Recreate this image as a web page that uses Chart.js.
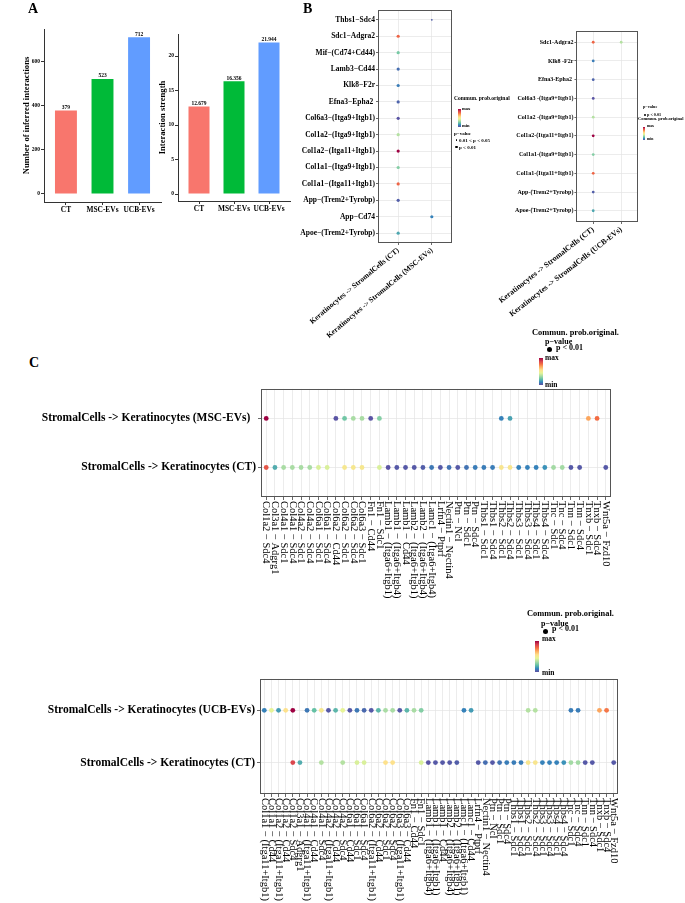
<!DOCTYPE html>
<html><head><meta charset="utf-8">
<script src="https://cdn.jsdelivr.net/npm/chart.js@4.4.1/dist/chart.umd.min.js"></script>
<style>
html,body{margin:0;padding:0;background:#fff;width:685px;height:903px;overflow:hidden;}
body{position:relative;}
canvas{position:absolute;}
.t{position:absolute;font-family:'Liberation Serif','Times New Roman',serif;font-weight:bold;color:#000;white-space:pre;line-height:1;}
.cb{position:absolute;background:linear-gradient(to bottom,#9E0142,#D53E4F,#F46D43,#FDAE61,#FEE08B,#E6F598,#ABDDA4,#66C2A5,#3288BD,#5E4FA2);}
.dot{position:absolute;border-radius:50%;background:#000;}
</style></head><body>
<canvas id="a1" width="170" height="230" style="left:0;top:0;width:170px;height:230px"></canvas>
<canvas id="a2" width="150" height="230" style="left:150px;top:0;width:150px;height:230px"></canvas>
<canvas id="b1" width="230" height="345" style="left:230px;top:0;width:230px;height:345px"></canvas>
<canvas id="b2" width="215" height="335" style="left:470px;top:0;width:215px;height:335px"></canvas>
<canvas id="c1" width="685" height="240" style="left:0;top:380px;width:685px;height:240px"></canvas>
<canvas id="c2" width="685" height="233" style="left:0;top:670px;width:685px;height:233px"></canvas>
<script>
// ---------------- DATA ----------------
const groupsA = ['CT', 'MSC-EVs', 'UCB-EVs'];
const interactionCounts = [379, 523, 712];
const interactionStrength = [12.679, 16.356, 21.944];
const countLabels = ['379', '523', '712'];
const strengthLabels = ['12.679', '16.356', '21.944'];
const countTicks = [0, 200, 400, 600];
const strengthTicks = [0, 5, 10, 15, 20];

// Panel B left
const pairsB1 = ['Thbs1\u2212Sdc4', 'Sdc1\u2212Adgra2', 'Mif\u2212(Cd74+Cd44)', 'Lamb3\u2212Cd44', 'Klk8\u2212F2r',
  'Efna3\u2212Epha2 ', 'Col6a3\u2212(Itga9+Itgb1)', 'Col1a2\u2212(Itga9+Itgb1)', 'Col1a2\u2212(Itga11+Itgb1)',
  'Col1a1\u2212(Itga9+Itgb1)', 'Col1a1\u2212(Itga11+Itgb1)', 'App\u2212(Trem2+Tyrobp)', 'App\u2212Cd74', 'Apoe\u2212(Trem2+Tyrobp)'];
const groupsB1 = ['Keratinocytes -> StromalCells (CT)', 'Keratinocytes -> StromalCells (MSC-EVs)'];
const probB1_CT  = [null, 0.80, 0.25, 0.06, 0.09, 0.04, 0.01, 0.35, 1.00, 0.27, 0.80, 0.03, null, 0.17];
const probB1_MSC = [0.03, null, null, null, null, null, null, null, null, null, null, null, 0.10, null];
const pB1_CT  = [0, 1, 1, 1, 1, 1, 1, 1, 1, 1, 1, 1, 0, 1];   // 1: p<0.01, 2: 0.01<p<0.05
const pB1_MSC = [2, 0, 0, 0, 0, 0, 0, 0, 0, 0, 0, 0, 1, 0];

// Panel B right
const pairsB2 = ['Sdc1-Adgra2', 'Klk8 -F2r', 'Efna3-Epha2 ', 'Col6a3 -(Itga9+Itgb1)', 'Col1a2 -(Itga9+Itgb1)',
  'Col1a2-(Itga11+Itgb1)', 'Col1a1-(Itga9+Itgb1)', 'Col1a1-(Itga11+Itgb1)', 'App-(Trem2+Tyrobp)', 'Apoe-(Trem2+Tyrobp)'];
const groupsB2 = ['Keratinocytes -> StromalCells (CT)', 'Keratinocytes -> StromalCells (UCB-EVs)'];
const probB2_CT  = [0.80, 0.09, 0.04, 0.01, 0.35, 1.00, 0.27, 0.80, 0.03, 0.17];
const probB2_UCB = [0.35, null, null, null, null, null, null, null, null, null];

// Panel C top
const pairsC1 = ['Col1a2 \u2212 Sdc4', 'Col3a1 \u2212 Adgrg1', 'Col4a1 \u2212 Sdc1', 'Col4a1 \u2212 Sdc4', 'Col4a2 \u2212 Sdc1',
  'Col4a2 \u2212 Sdc4', 'Col6a1 \u2212 Sdc1', 'Col6a1 \u2212 Sdc4', 'Col6a2 \u2212 Cd44', 'Col6a2 \u2212 Sdc1', 'Col6a2 \u2212 Sdc4',
  'Col6a3 \u2212 Sdc1', 'Fn1 \u2212 Cd44', 'Fn1 \u2212 Sdc1', 'Lamb1 \u2212 (Itga6+Itgb1)', 'Lamb1 \u2212 (Itga6+Itgb4)',
  'Lamb1 \u2212 Cd44', 'Lamb2 \u2212 (Itga6+Itgb1)', 'Lamb2 \u2212 (Itga6+Itgb4)', 'Lamc1 \u2212 (Itga6+Itgb4)',
  'Lrfn4 \u2212 Ptprf', 'Nectin1 \u2212 Nectin4', 'Ptn \u2212 Ncl', 'Ptn \u2212 Sdc1', 'Ptn \u2212 Sdc4', 'Thbs1 \u2212 Sdc1',
  'Thbs1 \u2212 Sdc4', 'Thbs2 \u2212 Sdc1', 'Thbs2 \u2212 Sdc4', 'Thbs3 \u2212 Sdc1', 'Thbs3 \u2212 Sdc4', 'Thbs4 \u2212 Sdc1',
  'Thbs4 \u2212 Sdc4', 'Tnc \u2212 Sdc1', 'Tnc \u2212 Sdc4', 'Tnn \u2212 Sdc1', 'Tnn \u2212 Sdc4', 'Tnxb \u2212 Sdc1',
  'Tnxb \u2212 Sdc4', 'Wnt5a \u2212 Fzd10'];
const rowsC1 = ['StromalCells -> Keratinocytes (MSC-EVs)  ', 'StromalCells -> Keratinocytes (CT)'];
const probC1_MSC = [1.00, null, null, null, null, null, null, null, 0.01, 0.24, 0.33, 0.33, 0.01, 0.27,
  null, null, null, null, null, null, null, null, null, null, null, null, null, 0.10, 0.16,
  null, null, null, null, null, null, null, null, 0.68, 0.78, null];
const probC1_CT = [0.83, 0.18, 0.33, 0.33, 0.33, 0.33, 0.42, 0.42, null, 0.52, 0.52, 0.52, null, 0.42,
  0.01, 0.02, 0.02, 0.02, 0.03, 0.08, 0.02, 0.07, 0.02, 0.07, 0.09, 0.09, 0.09, 0.53, 0.53,
  0.10, 0.10, 0.10, 0.13, 0.32, 0.32, 0.02, 0.02, null, null, 0.02];

// Panel C bottom
const pairsC2 = ['Col1a1 \u2212 (Itga11+Itgb1)', 'Col1a1 \u2212 Cd44', 'Col1a2 \u2212 (Itga11+Itgb1)', 'Col1a2 \u2212 Cd44',
  'Col1a2 \u2212 Sdc4', 'Col3a1 \u2212 Adgrg1', 'Col4a1 \u2212 (Itga11+Itgb1)', 'Col4a1 \u2212 Cd44', 'Col4a1 \u2212 Sdc4',
  'Col4a2 \u2212 (Itga11+Itgb1)', 'Col4a2 \u2212 Cd44', 'Col4a2 \u2212 Sdc4', 'Col6a1 \u2212 Cd44', 'Col6a1 \u2212 Sdc1',
  'Col6a1 \u2212 Sdc4', 'Col6a2 \u2212 (Itga11+Itgb1)', 'Col6a2 \u2212 Cd44', 'Col6a2 \u2212 Sdc1', 'Col6a2 \u2212 Sdc4',
  'Col6a3 \u2212 (Itga11+Itgb1)', 'Col6a3 \u2212 Cd44', 'Fn1 \u2212 Cd44', 'Fn1 \u2212 Sdc1', 'Lamb1 \u2212 (Itga6+Itgb4)',
  'Lamb1 \u2212 (Itga6+Itgb1)', 'Lamb1 \u2212 Cd44', 'Lamb2 \u2212 (Itga6+Itgb4)', 'Lamb2 \u2212 (Itga6+Itgb1)',
  'Lamc1 \u2212 (Itga6+Itgb1)', 'Lamc1 \u2212 Cd44', 'Lrfn4 \u2212 Ptprf', 'Nectin1 \u2212 Nectin4', 'Ptn \u2212 Ncl',
  'Ptn \u2212 Sdc1', 'Ptn \u2212 Sdc4', 'Thbs1 \u2212 Sdc1', 'Thbs1 \u2212 Sdc4', 'Thbs2 \u2212 Sdc1', 'Thbs2 \u2212 Sdc4',
  'Thbs3 \u2212 Sdc1', 'Thbs3 \u2212 Sdc4', 'Thbs4 \u2212 Sdc1', 'Thbs4 \u2212 Sdc4', 'Tnc \u2212 Sdc1', 'Tnc \u2212 Sdc4',
  'Tnn \u2212 Sdc1', 'Tnn \u2212 Sdc4', 'Tnxb \u2212 Sdc1', 'Tnxb \u2212 Sdc4', 'Wnt5a \u2212 Fzd10'];
const rowsC2 = ['StromalCells -> Keratinocytes (UCB-EVs)', 'StromalCells -> Keratinocytes (CT)'];
const probC2_UCB = [0.10, 0.45, 0.15, 0.55, 1.00, null, 0.08, 0.22, 0.52, 0.02, 0.20, 0.45, 0.02, 0.08, 0.05,
  0.02, 0.20, 0.33, 0.33, 0.02, 0.20, 0.33, 0.27, null, null, null, null, null, 0.10, 0.15,
  null, null, null, null, null, null, null, 0.35, 0.35, null, null, null, null, 0.09, 0.09,
  null, null, 0.68, 0.76, null];
const probC2_CT = [null, null, null, null, 0.87, 0.18, null, null, 0.35, null, null, 0.35, null, 0.42, 0.42,
  null, null, 0.55, 0.55, null, null, null, 0.42, 0.01, 0.02, 0.02, 0.02, 0.03, null, null,
  0.02, 0.06, 0.02, 0.07, 0.09, 0.09, 0.09, 0.53, 0.53, 0.10, 0.10, 0.10, 0.13, 0.32, 0.32,
  0.02, 0.02, null, null, 0.02];

// ---------------- STYLE ----------------
const SERIF = "'Liberation Serif','Times New Roman',serif";
Chart.defaults.font.family = SERIF;
Chart.defaults.color = '#000';
const barColors = ['#F8766D', '#00BA38', '#619CFF'];
const SPECTRAL = ['#5E4FA2','#3288BD','#66C2A5','#ABDDA4','#E6F598','#FEE08B','#FDAE61','#F46D43','#D53E4F','#9E0142'];
function hex2rgb(h){return [parseInt(h.slice(1,3),16),parseInt(h.slice(3,5),16),parseInt(h.slice(5,7),16)];}
function probColor(v){
  const n = SPECTRAL.length - 1;
  const t = Math.max(0, Math.min(1, v)) * n;
  const i = Math.min(n - 1, Math.floor(t));
  const f = t - i;
  const a = hex2rgb(SPECTRAL[i]), b = hex2rgb(SPECTRAL[i + 1]);
  return 'rgb(' + a.map((c, k) => Math.round(c + (b[k] - c) * f)).join(',') + ')';
}

// ---------------- PLUGINS ----------------
const boxPlugin = {
  id: 'box',
  afterDraw(chart, args, opts) {
    if (!opts || !opts.color) return;
    const {left, top, right, bottom} = chart.chartArea;
    const ctx = chart.ctx;
    ctx.save();
    ctx.strokeStyle = opts.color; ctx.lineWidth = opts.width || 1;
    ctx.strokeRect(Math.round(left) + 0.5, Math.round(top) + 0.5, Math.round(right - left) - 1, Math.round(bottom - top) - 1);
    ctx.restore();
  }
};
const barLabelPlugin = {
  id: 'barLabels',
  afterDatasetsDraw(chart, args, opts) {
    if (!opts || !opts.labels) return;
    const ctx = chart.ctx;
    const meta = chart.getDatasetMeta(0);
    ctx.save();
    ctx.font = 'bold ' + opts.size + 'px ' + SERIF;
    ctx.fillStyle = '#000'; ctx.textAlign = 'center'; ctx.textBaseline = 'bottom';
    meta.data.forEach((bar, i) => ctx.fillText(opts.labels[i], bar.x, bar.y - 0.3));
    ctx.restore();
  }
};
const vLabelPlugin = {
  id: 'vlabels',
  afterDraw(chart, args, opts) {
    if (!opts || !opts.labels) return;
    const ctx = chart.ctx, sx = chart.scales.x;
    const y0 = chart.chartArea.bottom + opts.offset;
    ctx.save();
    ctx.font = (opts.weight || 'normal') + ' ' + opts.size + 'px ' + SERIF;
    ctx.fillStyle = '#000'; ctx.textAlign = 'left'; ctx.textBaseline = 'middle';
    opts.labels.forEach((lab, i) => {
      const x = sx.getPixelForValue(i);
      ctx.save(); ctx.translate(x, y0); ctx.rotate(Math.PI / 2); ctx.fillText(lab, 0, 0); ctx.restore();
    });
    ctx.restore();
  }
};
Chart.register(boxPlugin, barLabelPlugin, vLabelPlugin);

// ---------------- PANEL A ----------------
function barChart(id, values, labels, ticksArr, ymin, ymax, pad, yWidth, xHeight, title, titlePad) {
  return new Chart(document.getElementById(id), {
    type: 'bar',
    data: { datasets: [{ data: values.map((v, i) => ({x: i, y: v})), backgroundColor: barColors,
      barPercentage: 0.6, categoryPercentage: 1, borderWidth: 0 }] },
    options: {
      responsive: false, animation: false,
      layout: { padding: pad },
      plugins: { legend: {display: false}, tooltip: {enabled: false}, barLabels: {labels: labels, size: 5.5} },
      scales: {
        x: { type: 'linear', min: -0.6, max: values.length - 0.4, offset: false,
          afterBuildTicks: s => { s.ticks = groupsA.map((_, i) => ({value: i})); },
          ticks: { callback: v => groupsA[v], font: {size: 7.4, weight: 'bold'}, color: '#000', padding: 1, autoSkip: false, maxRotation: 0 },
          grid: { offset: false, drawOnChartArea: false, drawTicks: true, tickLength: 3, tickColor: '#333' },
          border: { display: true, color: '#333', width: 1 },
          afterFit: s => { s.height = xHeight; } },
        y: { type: 'linear', min: ymin, max: ymax,
          afterBuildTicks: s => { s.ticks = ticksArr.map(v => ({value: v})); },
          ticks: { font: {size: 5.5, weight: 'bold'}, color: '#000', padding: 1 },
          grid: { drawOnChartArea: false, drawTicks: true, tickLength: 3, tickColor: '#333' },
          border: { display: true, color: '#333', width: 1 },
          title: { display: true, text: title, font: {size: 8.6, weight: 'bold', lineHeight: 1.2}, color: '#000', padding: {top: titlePad, bottom: 0} },
          afterFit: s => { s.width = yWidth; } }
      }
    }
  });
}
barChart('a1', interactionCounts, countLabels, countTicks, -36.4, 750, {left: 0, top: 29, right: 9, bottom: 0}, 44, 28, 'Number of inferred interactions', 22);
barChart('a2', interactionStrength, strengthLabels, strengthTicks, -1.01, 23.19, {left: 0, top: 34, right: 10, bottom: 0}, 28, 29, 'Interaction strength', 7.8);

// ---------------- DOT PLOTS ----------------
const GRID = { color: '#E4E4E4', lineWidth: 0.7, drawTicks: true, tickLength: 2, tickColor: '#444', tickWidth: 0.8 };

function bPanel(id, pairs, groups, probs, plev, pad, yWidth, xHeight, yFont, xFont, rot, radii) {
  const datasets = groups.map((g, gi) => ({
    data: probs[gi].map((v, pi) => v == null ? null : {x: gi, y: pi, v: v, p: plev ? plev[gi][pi] : 1}).filter(Boolean),
    pointBackgroundColor: c => probColor(c.raw.v),
    pointBorderWidth: 0,
    pointRadius: c => radii[c.raw.p]
  }));
  return new Chart(document.getElementById(id), {
    type: 'scatter',
    data: { datasets },
    options: {
      responsive: false, animation: false,
      layout: { padding: pad },
      plugins: { legend: {display: false}, tooltip: {enabled: false}, box: {color: '#555', width: 1} },
      scales: {
        x: { type: 'linear', min: -0.6, max: groups.length - 0.4,
          afterBuildTicks: s => { s.ticks = groups.map((_, i) => ({value: i})); },
          ticks: { callback: v => groups[v], font: {size: xFont, weight: 'bold'}, color: '#000', padding: 1, autoSkip: false, minRotation: rot, maxRotation: rot },
          grid: GRID, border: {display: false},
          afterFit: s => { s.height = xHeight; } },
        y: { type: 'linear', reverse: true, min: -0.6, max: pairs.length - 0.4,
          afterBuildTicks: s => { s.ticks = pairs.map((_, i) => ({value: i})); },
          ticks: { callback: v => pairs[v], font: {size: yFont, weight: 'bold'}, color: '#000', padding: 1, autoSkip: false },
          grid: GRID, border: {display: false},
          afterFit: s => { s.width = yWidth; } }
      }
    }
  });
}
bPanel('b1', pairsB1, groupsB1, [probB1_CT, probB1_MSC], [pB1_CT, pB1_MSC],
  {left: 0, top: 10, right: 8, bottom: 0}, 148, 102, 7.5, 7.5, 40, {1: 1.6, 2: 0.9});
bPanel('b2', pairsB2, groupsB2, [probB2_CT, probB2_UCB], null,
  {left: 0, top: 31, right: 47, bottom: 0}, 106, 113, 6, 7.8, 38, {1: 1.4});

function cPanel(id, pairs, rows, probs, pad, yWidth, xHeight) {
  const datasets = rows.map((r, ri) => ({
    data: probs[ri].map((v, pi) => v == null ? null : {x: pi, y: ri, v: v}).filter(Boolean),
    pointBackgroundColor: c => probColor(c.raw.v),
    pointBorderWidth: 0,
    pointRadius: 2.4
  }));
  const grid = Object.assign({}, GRID, {tickLength: 3});
  return new Chart(document.getElementById(id), {
    type: 'scatter',
    data: { datasets },
    options: {
      responsive: false, animation: false,
      layout: { padding: pad },
      plugins: { legend: {display: false}, tooltip: {enabled: false}, box: {color: '#555', width: 1},
        vlabels: {labels: pairs, size: 10.5, offset: 4} },
      scales: {
        x: { type: 'linear', min: -0.6, max: pairs.length - 0.4,
          afterBuildTicks: s => { s.ticks = pairs.map((_, i) => ({value: i})); },
          ticks: { display: false },
          grid: grid, border: {display: false},
          afterFit: s => { s.height = xHeight; } },
        y: { type: 'linear', reverse: true, min: -0.6, max: rows.length - 0.4,
          afterBuildTicks: s => { s.ticks = rows.map((_, i) => ({value: i})); },
          ticks: { callback: v => rows[v], font: {size: 11.5, weight: 'bold'}, color: '#000', padding: 2, autoSkip: false },
          grid: grid, border: {display: false},
          afterFit: s => { s.width = yWidth; } }
      }
    }
  });
}
cPanel('c1', pairsC1, rowsC1, [probC1_MSC, probC1_CT], {left: 0, top: 7, right: 74, bottom: 0}, 261, 123);
cPanel('c2', pairsC2, rowsC2, [probC2_UCB, probC2_CT], {left: 0, top: 8, right: 67, bottom: 0}, 260, 109);

// ---------------- LEGENDS & PANEL LETTERS ----------------
function addText(str, x, cy, size) {
  const d = document.createElement('div'); d.className = 't'; d.textContent = str;
  d.style.left = x + 'px'; d.style.top = (cy - size * 0.5) + 'px'; d.style.fontSize = size + 'px';
  document.body.appendChild(d);
}
function addBar(x, y, w, h) {
  const d = document.createElement('div'); d.className = 'cb';
  d.style.left = x + 'px'; d.style.top = y + 'px'; d.style.width = w + 'px'; d.style.height = h + 'px';
  document.body.appendChild(d);
}
function addDot(cx, cy, r) {
  const d = document.createElement('div'); d.className = 'dot';
  d.style.left = (cx - r) + 'px'; d.style.top = (cy - r) + 'px'; d.style.width = 2 * r + 'px'; d.style.height = 2 * r + 'px';
  document.body.appendChild(d);
}
addText('A', 28, 9, 14);
addText('B', 303, 9, 14);
addText('C', 29, 363, 14);

// B left legend
addText('Commun. prob.original', 454, 99, 5.5);
addBar(458, 109, 3, 18);
addText('max', 462, 109, 4.5);
addText('min', 462, 126, 4.5);
addText('p\u2212value', 454, 133, 5);
addDot(456.5, 140, 0.8); addText('0.01 < p < 0.05', 459, 140, 5);
addDot(456.5, 147, 1.3); addText('p < 0.01', 459, 147, 5);

// B right legend
addText('p\u2212value', 643, 107, 4.2);
addDot(645, 115, 1.0); addText('p < 0.01', 647, 115, 4.2);
addText('Commun. prob.original', 638, 119.5, 4.5);
addBar(643, 127, 2, 13);
addText('max', 647, 127, 3.8);
addText('min', 647, 140, 3.8);

// C top legend
addText('Commun. prob.original.', 532, 333, 8.4);
addText('p\u2212value', 545, 342, 8);
addDot(549, 349, 2.5); addText('p < 0.01', 556, 348, 8);
addBar(539, 358, 4, 27);
addText('max', 545, 358, 7.5);
addText('min', 545, 385, 7.5);

// C bottom legend
addText('Commun. prob.original.', 527, 614, 8.4);
addText('p\u2212value', 541, 624, 8);
addDot(545, 631, 2.5); addText('p < 0.01', 552, 629, 8);
addBar(535, 641, 4, 31);
addText('max', 542, 639, 7.5);
addText('min', 542, 673, 7.5);
</script>
</body></html>
